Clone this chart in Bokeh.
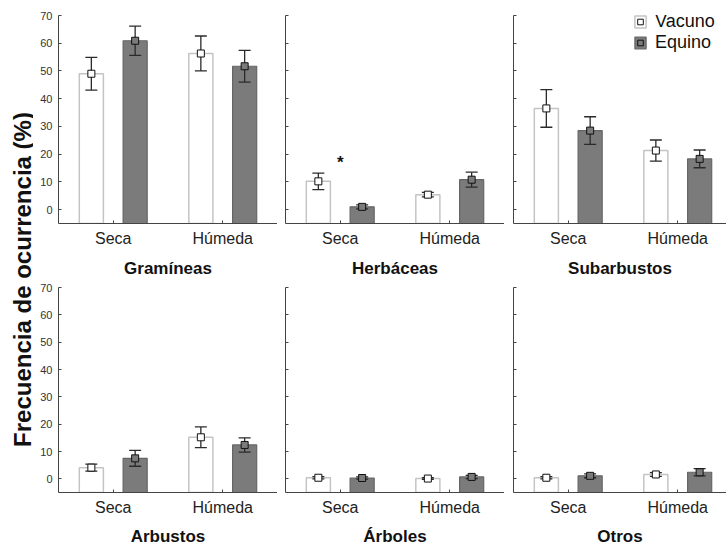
from bokeh.plotting import figure
from bokeh.models import (ColumnDataSource, Range1d, FixedTicker, Whisker, TeeHead,
                          Legend, LegendItem)
from bokeh.layouts import row, column
from bokeh.embed import file_html
from bokeh.resources import INLINE
from bokeh.core.properties import value
import math

# ---------------- data ----------------
groups = ["Gramíneas", "Herbáceas", "Subarbustos", "Arbustos", "Árboles", "Otros"]
conditions = ["Seca", "Húmeda"]
series = ["Vacuno", "Equino"]

vacuno_mean = [[49.0, 56.3], [10.2, 5.4], [36.5, 21.3], [4.1, 15.2], [0.4, 0.1], [0.4, 1.6]]
vacuno_err = [[5.9, 6.3], [3.0, 0.8], [6.8, 3.8], [1.3, 3.8], [0.4, 0.3], [0.4, 0.7]]
equino_mean = [[60.9, 51.7], [1.0, 10.8], [28.5, 18.3], [7.5, 12.4], [0.3, 0.7], [1.1, 2.4]]
equino_err = [[5.3, 5.7], [0.7, 2.7], [5.0, 3.2], [2.9, 2.6], [0.4, 0.6], [0.7, 1.3]]

y_ticks = [0, 10, 20, 30, 40, 50, 60, 70]
y_label = "Frecuencia de ocurrencia (%)"
signif = [("Herbáceas", "Seca", 17.0)]   # asterisk marks

# ---------------- style ----------------
FONT = "Liberation Sans"
FRAME_W = 219
FRAME_H = 209
Y0, Y1 = -5, 70
OFFSET = 0.2
BAR_W = 0.22
VAC_FILL, VAC_LINE = "white", "#c4c4c4"
EQU_FILL, EQU_LINE = "#7b7b7b", "#666666"
AX = "#444444"

cat_x = [i + 0.5 for i in range(len(conditions))]


def make_panel(gi, col, rowi):
    left_b = [25, 8, 9][col]
    frame_w = [219, 219, 213][col]
    x_end = len(conditions) * frame_w / FRAME_W
    top_b = 15 if rowi == 0 else 7
    bottom_b = 56 if rowi == 0 else 52
    p = figure(width=left_b + frame_w, height=top_b + FRAME_H + bottom_b,
               x_range=Range1d(0, x_end), y_range=Range1d(Y0, Y1),
               output_backend="svg", toolbar_location=None,
               min_border_left=left_b, min_border_right=0,
               min_border_top=top_b, min_border_bottom=bottom_b)
    p.outline_line_color = None
    p.xgrid.visible = False
    p.ygrid.visible = False
    p.background_fill_color = "white"

    vm, ve = vacuno_mean[gi], vacuno_err[gi]
    em, ee = equino_mean[gi], equino_err[gi]
    src = ColumnDataSource(dict(
        xv=[x - OFFSET for x in cat_x], xe=[x + OFFSET for x in cat_x],
        v=vm, vlo=[m - e for m, e in zip(vm, ve)], vhi=[m + e for m, e in zip(vm, ve)],
        e=em, elo=[m - e for m, e in zip(em, ee)], ehi=[m + e for m, e in zip(em, ee)],
    ))

    rv = p.vbar(x="xv", width=BAR_W, top="v", bottom=Y0, source=src,
                fill_color=VAC_FILL, line_color=VAC_LINE, line_width=1.5)
    re_ = p.vbar(x="xe", width=BAR_W, top="e", bottom=Y0, source=src,
                 fill_color=EQU_FILL, line_color=EQU_LINE, line_width=1.2)

    for base, lo, hi in (("xv", "vlo", "vhi"), ("xe", "elo", "ehi")):
        w = Whisker(source=src, base=base, lower=lo, upper=hi,
                    line_color="#2a2a2a", line_width=1.3, level="annotation",
                    upper_head=TeeHead(size=12, line_color="#2a2a2a", line_width=1.3),
                    lower_head=TeeHead(size=12, line_color="#2a2a2a", line_width=1.3))
        p.add_layout(w)

    sv = p.scatter(x="xv", y="v", source=src, marker="square", size=7,
                   fill_color=VAC_FILL, line_color="#111111", line_width=1, level="overlay")
    se = p.scatter(x="xe", y="e", source=src, marker="square", size=7,
                   fill_color=EQU_FILL, line_color="#111111", line_width=1, level="overlay")

    for g, c, yv in signif:
        if g == groups[gi]:
            p.text(x=[cat_x[conditions.index(c)]], y=[yv], text=["*"],
                   text_font=value(FONT), text_font_size="17px", text_font_style="bold",
                   text_align="center", text_baseline="middle", text_color="#111111")

    # x axis
    xa = p.xaxis[0]
    xa.ticker = FixedTicker(ticks=cat_x)
    xa.major_label_overrides = {x: c for x, c in zip(cat_x, conditions)}
    xa.axis_line_color = AX
    xa.major_tick_line_color = AX
    xa.major_tick_in = 3
    xa.major_tick_out = 0
    xa.minor_tick_line_color = None
    xa.major_label_text_font = FONT
    xa.major_label_text_font_size = "16px"
    xa.major_label_text_color = "#222222"
    xa.major_label_standoff = 6
    xa.axis_label = groups[gi]
    xa.axis_label_text_font = FONT
    xa.axis_label_text_font_size = "17px"
    xa.axis_label_text_font_style = "bold"
    xa.axis_label_text_color = "#111111"
    xa.axis_label_standoff = 9 if rowi == 0 else 8

    # y axis
    ya = p.yaxis[0]
    ya.axis_line_color = AX
    if col == 0:
        ya.ticker = FixedTicker(ticks=y_ticks)
        ya.major_tick_line_color = AX
        ya.major_tick_in = 3
        ya.major_tick_out = 0
        ya.minor_tick_line_color = None
        ya.major_label_text_font = FONT
        ya.major_label_text_font_size = "11px"
        ya.major_label_text_color = "#333333"
        ya.major_label_standoff = 6
    else:
        # ticks without labels
        ya.ticker = FixedTicker(ticks=[], minor_ticks=y_ticks)
        ya.major_tick_line_color = None
        ya.minor_tick_line_color = AX
        ya.minor_tick_in = 3
        ya.minor_tick_out = 0
        ya.major_label_standoff = 0

    if gi == 2:
        legend = Legend(items=[LegendItem(label=series[0], renderers=[rv, sv]),
                               LegendItem(label=series[1], renderers=[re_, se])],
                        location=(120, 170), orientation="vertical",
                        glyph_width=14, glyph_height=15, label_height=20,
                        label_standoff=8, spacing=0, padding=0, margin=0,
                        label_text_font=FONT, label_text_font_size="18px",
                        label_text_color="#111111",
                        border_line_color=None, background_fill_alpha=0)
        p.add_layout(legend)
    return p


panels = [make_panel(gi, gi % 3, gi // 3) for gi in range(len(groups))]

# y-axis label column
LAB_W, LAB_H = 33, 548
lab = figure(width=LAB_W, height=LAB_H, x_range=Range1d(0, LAB_W), y_range=Range1d(0, LAB_H),
             x_axis_type=None, y_axis_type=None, output_backend="svg", toolbar_location=None,
             min_border_left=0, min_border_right=0, min_border_top=0, min_border_bottom=0)
lab.outline_line_color = None
lab.xgrid.visible = False
lab.ygrid.visible = False
lab.text(x=[22], y=[LAB_H - 279], text=[y_label], angle=math.pi / 2,
         text_font=value(FONT), text_font_size="24px", text_font_style="bold",
         text_align="center", text_baseline="middle", text_color="#111111")

layout = row(lab, column(row(*panels[:3]), row(*panels[3:])))

open("out.html", "w").write(file_html(layout, INLINE))
